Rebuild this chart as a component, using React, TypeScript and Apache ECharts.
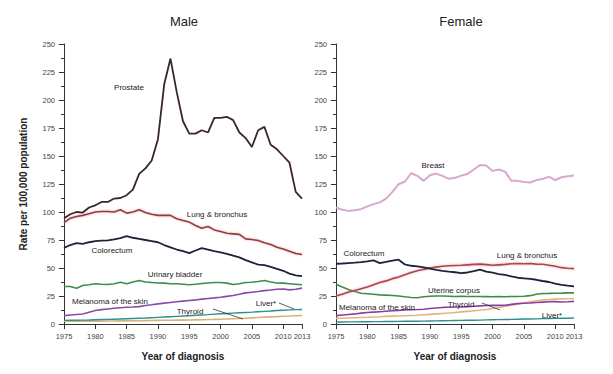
import React, { useEffect, useRef } from "react";
import * as echarts from "echarts";

const years: number[] = [];
for (let y = 1975; y <= 2013; y++) years.push(y);

const xTickValues = [1975, 1980, 1985, 1990, 1995, 2000, 2005, 2010, 2013];

// Male
const maleProstate = [94.5, 98, 100, 99.5, 104, 106, 109, 109, 112, 112.5, 115, 120, 134, 139, 146, 165, 214, 237, 207, 181, 170, 170, 173, 171, 184, 184, 185, 182, 171, 166, 158, 173, 176, 160, 156, 150, 144, 118, 112];
const maleLung = [90.5, 94.5, 96, 97, 98.5, 100, 100.5, 100.5, 100, 102, 99, 100, 102, 99.5, 98, 97, 97, 97, 94, 92.5, 91, 88, 85.5, 87, 84, 82.5, 81, 80.5, 80, 76, 75.5, 74.5, 72.5, 71, 68.5, 67, 65, 63, 62];
const maleColorectum = [68, 70.5, 72.2, 71.6, 73, 74, 74.5, 74.6, 75.5, 76.7, 78.5, 77, 76, 75, 74, 73, 70.5, 68.5, 66.5, 65, 63.3, 65.6, 67.7, 66.5, 65, 64, 62.7, 61, 59.5, 57, 55, 53, 52.5, 51, 49.3, 47.5, 45, 43.5, 42.7];
const maleBladder = [33.5, 33.5, 32, 34.4, 35, 35.9, 35.5, 35.3, 36, 37.3, 36, 37.5, 38.8, 37.5, 37, 36.6, 36.5, 36, 36, 35.5, 35, 35.5, 36.2, 36.6, 37, 37, 36.5, 35.3, 36, 37, 37.3, 38, 38.8, 37.5, 36.6, 36.5, 36, 35.5, 35];
const maleMelanoma = [7.5, 8, 8.5, 8.9, 10.5, 12, 12.8, 13.4, 14, 14.5, 15, 15.2, 15.5, 16.5, 17.2, 18, 18.6, 19.2, 19.8, 20.4, 21, 21.5, 22.2, 22.8, 23.3, 23.9, 24.7, 25.5, 26.5, 27.8, 28.4, 29, 29.8, 30.3, 31, 31.3, 30.5, 31, 32];
const maleLiver = [3.2, 3.3, 3.4, 3.5, 3.6, 3.8, 4, 4.1, 4.3, 4.5, 4.7, 4.9, 5.1, 5.3, 5.6, 5.9, 6.2, 6.5, 6.8, 7.1, 7.4, 7.8, 8.1, 8.4, 8.8, 9.1, 9.4, 9.7, 10, 10.3, 10.6, 11, 11.3, 11.6, 12, 12.3, 12.6, 12.8, 13];
const maleThyroid = [2.4, 2.4, 2.5, 2.5, 2.6, 2.6, 2.6, 2.7, 2.7, 2.8, 2.8, 2.9, 2.9, 3, 3.1, 3.2, 3.3, 3.4, 3.5, 3.5, 3.6, 3.7, 3.8, 4, 4.1, 4.3, 4.5, 4.7, 4.9, 5.2, 5.5, 5.8, 6.1, 6.4, 6.6, 6.9, 7.1, 7.4, 7.6];

// Female
const femaleBreast = [104, 102, 101, 101.5, 102.5, 105, 107, 108.6, 112, 118, 124.8, 127.2, 134.6, 132.3, 127.8, 132.8, 134.3, 132.3, 129.6, 130.5, 132.5, 134, 138, 142, 141.5, 136.7, 138, 136, 127.8, 127.8, 126.8, 126.3, 128.5, 129.5, 131.6, 128.4, 131, 132, 132.5];
const femaleColorectum = [53.8, 54, 54.4, 54.8, 55.3, 56, 56.8, 54.4, 55.5, 56.5, 57.4, 53.2, 52, 51.4, 50.5, 49.4, 48.3, 47.5, 46.8, 46.2, 45.5, 46, 47.2, 48.5, 46.8, 45.8, 44.6, 43.8, 42.5, 41.3, 40.8, 40.3, 39.5, 38.4, 37.5, 36, 35, 34.2, 33.5];
const femaleLung = [25, 26.5, 28.5, 30, 31.5, 33, 35, 37, 38.5, 40.5, 42, 44, 46, 47.5, 48.8, 50, 50.8, 51.5, 52, 52.2, 52.4, 52.8, 53.2, 53.5, 53, 52.4, 52.8, 53.2, 53.8, 54, 53.8, 54, 53.5, 53.3, 52.5, 51.5, 50.3, 49.8, 49.4];
const femaleUterine = [35.5, 33, 30.8, 29, 27.5, 27, 26.5, 26, 25.8, 25.5, 25, 24.3, 23.7, 23.4, 24.3, 24.8, 25, 25, 24.8, 24.6, 24.8, 24.5, 24.6, 24.5, 24.4, 24.3, 24.5, 24.3, 24.6, 24.5, 24.8, 25.3, 26.5, 27.2, 27.3, 27.5, 27.6, 27.8, 27.8];
const femaleMelanoma = [7.5, 8, 8.5, 9, 9.7, 10.2, 10.6, 11, 11.4, 11.8, 12.2, 12.5, 12.7, 12.9, 13.2, 13.8, 14.3, 14.8, 15, 15.2, 15.3, 15.5, 15.8, 16.2, 16.5, 16.8, 16.6, 16.8, 17.5, 18.2, 18.5, 18.8, 19.2, 19.5, 19.8, 20, 19.6, 19.8, 20.2];
const femaleThyroid = [5, 5.2, 5.4, 5.6, 5.8, 6, 6.3, 6.5, 6.8, 7, 7.2, 7.4, 7.6, 7.8, 8.2, 8.6, 9, 9.4, 9.8, 10.3, 10.8, 11.3, 11.8, 12.3, 13, 13.8, 14.8, 15.8, 16.8, 17.8, 18.8, 19.8, 20.8, 21.5, 21.8, 22.2, 22.5, 22.6, 22.8];
const femaleLiver = [1.8, 1.8, 1.9, 1.9, 2, 2, 2.1, 2.1, 2.2, 2.2, 2.3, 2.4, 2.4, 2.5, 2.6, 2.7, 2.8, 2.9, 3, 3.1, 3.2, 3.3, 3.4, 3.5, 3.7, 3.8, 3.9, 4, 4.1, 4.3, 4.4, 4.5, 4.6, 4.8, 4.9, 5, 5.1, 5.2, 5.3];

const FONT = "Liberation Sans, Arial, sans-serif";

function pairs(vals: number[]) {
  return years.map((y, i) => [y, vals[i]]);
}

function line(name: string, vals: number[], idx: number, color: string, width = 1.6, glow?: string) {
  return {
    name,
    type: "line",
    xAxisIndex: idx,
    yAxisIndex: idx,
    data: pairs(vals),
    showSymbol: false,
    symbol: "none",
    lineStyle: glow
      ? { color, width, shadowColor: glow, shadowBlur: 2 }
      : { color, width },
    z: 3,
  };
}

function label(text: string, x: number, y: number) {
  return {
    type: "text",
    x,
    y,
    style: {
      text,
      fill: "#222",
      font: `8px ${FONT}`,
      textAlign: "center",
      textVerticalAlign: "middle",
    },
    z: 10,
  };
}

function pointer(x1: number, y1: number, x2: number, y2: number) {
  return {
    type: "line",
    shape: { x1, y1, x2, y2 },
    style: { stroke: "#333", lineWidth: 0.8 },
    z: 10,
  };
}

function xAxis(idx: number) {
  return {
    type: "value",
    gridIndex: idx,
    min: 1975,
    max: 2013,
    interval: 5,
    name: "Year of diagnosis",
    nameLocation: "middle",
    nameGap: 27,
    nameTextStyle: { fontSize: 10, fontWeight: "bold", color: "#222", fontFamily: FONT },
    axisLine: { lineStyle: { color: "#333", width: 1 } },
    axisTick: { customValues: xTickValues, length: 5, lineStyle: { color: "#333" } },
    axisLabel: {
      customValues: xTickValues,
      formatter: (v: number) => String(v),
      hideOverlap: false,
      showMaxLabel: true,
      showMinLabel: true,
      fontSize: 7.5,
      color: "#444",
      fontFamily: FONT,
      margin: 8,
    },
    splitLine: { show: false },
  };
}

function yAxis(idx: number, withName: boolean) {
  return {
    type: "value",
    gridIndex: idx,
    min: 0,
    max: 250,
    interval: 25,
    name: withName ? "Rate per 100,000 population" : "",
    nameLocation: "middle",
    nameGap: 36,
    nameTextStyle: { fontSize: 10, fontWeight: "bold", color: "#222", fontFamily: FONT },
    axisLine: { show: true, lineStyle: { color: "#333", width: 1 } },
    axisTick: { show: true, length: 5, lineStyle: { color: "#333" } },
    minorTick: { show: true, splitNumber: 2, length: 3, lineStyle: { color: "#333" } },
    axisLabel: { fontSize: 7.5, color: "#444", fontFamily: FONT, margin: 9 },
    splitLine: { show: false },
  };
}

export default function App() {
  const ref = useRef<HTMLDivElement>(null);
  useEffect(() => {
    if (!ref.current) return;
    const chart = echarts.init(ref.current, undefined, { renderer: "svg" });
    chart.setOption({
      animation: false,
      backgroundColor: "#fff",
      grid: [
        { left: 64, right: 311, top: 44, bottom: 50 },
        { left: 336, right: 39, top: 44, bottom: 50 },
      ],
      xAxis: [xAxis(0), xAxis(1)],
      yAxis: [yAxis(0, true), yAxis(1, false)],
      series: [
        line("Thyroid", maleThyroid, 0, "#d6b27a", 1.6),
        line("Liver*", maleLiver, 0, "#2f8f8a", 1.4),
        line("Melanoma of the skin", maleMelanoma, 0, "#8a4aa8", 1.6),
        line("Urinary bladder", maleBladder, 0, "#3f8a52", 1.6),
        line("Colorectum", maleColorectum, 0, "#1e2238", 1.8),
        line("Lung & bronchus", maleLung, 0, "#8e3a42", 1.6, "rgba(240,140,150,0.8)"),
        line("Prostate", maleProstate, 0, "#3a2628", 1.8),
        line("Liver*", femaleLiver, 1, "#2f8f8a", 1.4),
        line("Thyroid", femaleThyroid, 1, "#e2b57e", 1.6),
        line("Melanoma of the skin", femaleMelanoma, 1, "#8a3fa0", 1.6),
        line("Uterine corpus", femaleUterine, 1, "#3f8a4e", 1.6),
        line("Lung & bronchus", femaleLung, 1, "#a84650", 1.6, "rgba(240,140,150,0.8)"),
        line("Colorectum", femaleColorectum, 1, "#1e2238", 1.8),
        line("Breast", femaleBreast, 1, "#d9a8cf", 2),
      ],
      graphic: [
        {
          type: "text",
          x: 184,
          y: 21,
          style: { text: "Male", fill: "#222", font: `13px ${FONT}`, textAlign: "center", textVerticalAlign: "middle" },
        },
        {
          type: "text",
          x: 461,
          y: 21,
          style: { text: "Female", fill: "#222", font: `13px ${FONT}`, textAlign: "center", textVerticalAlign: "middle" },
        },
        label("Prostate", 129, 87),
        label("Lung & bronchus", 217, 214),
        label("Colorectum", 112, 250),
        label("Urinary bladder", 175, 274),
        label("Melanoma of the skin", 110, 301),
        label("Thyroid", 190, 311),
        pointer(213, 309, 243, 319),
        label("Liver*", 266, 303),
        pointer(279, 303, 294, 309),
        label("Breast", 433, 165),
        label("Colorectum", 364, 253),
        label("Lung & bronchus", 527, 255),
        label("Uterine corpus", 454, 290),
        label("Melanoma of the skin", 377, 307),
        label("Thyroid", 461, 304),
        pointer(482, 303, 500, 310),
        label("Liver*", 552, 315),
      ],
    });
    return () => chart.dispose();
  }, []);
  return <div ref={ref} style={{ width: 613, height: 374, position: "absolute", left: 0, top: 0 }} />;
}
